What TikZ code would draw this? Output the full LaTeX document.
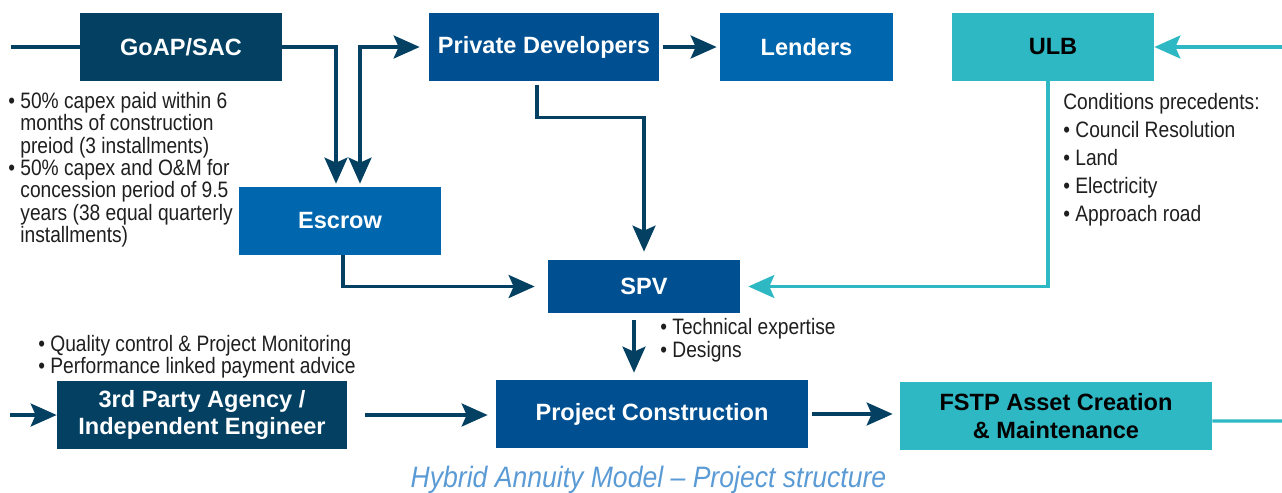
\documentclass[tikz,border=0pt]{standalone}
\usepackage{fontspec}
\setmainfont{Liberation Sans}
\newfontfamily\narrow[FakeStretch=0.86]{Liberation Sans}
\newfontfamily\captionfont[FakeStretch=0.9]{Liberation Sans}
\usetikzlibrary{arrows.meta}
\definecolor{navy}{RGB}{3,64,98}
\definecolor{midblue}{RGB}{0,80,145}
\definecolor{brightblue}{RGB}{0,102,173}
\definecolor{ulbteal}{RGB}{46,184,196}
\definecolor{captionblue}{RGB}{91,155,213}
\begin{document}
\begin{tikzpicture}[
		>={Stealth[length=0.52cm,width=0.46cm,inset=0.1cm]},
		box/.style={minimum height=1.36cm, inner sep=0pt, text=white, align=center,
				font=\fontsize{13.4}{15.4}\selectfont\bfseries},
		arr/.style={draw=navy, line width=1.8pt, ->},
		tarr/.style={arr, draw=ulbteal},
		note/.style={anchor=north west, inner sep=0pt, align=left, text=black!88,
				font=\narrow\fontsize{12.7}{12.7}\selectfont}
	]
	\useasboundingbox (0,0) rectangle (25.64,-9.84);
	\node[box, fill=navy, minimum width=4.04cm] (goap) at (3.62,-0.94) {GoAP/SAC};
	\node[box, fill=midblue, minimum width=4.6cm] (devs) at (10.88,-0.94) {Private Developers};
	\node[box, fill=brightblue, minimum width=3.46cm] (lenders) at (16.13,-0.94) {Lenders};
	\node[box, fill=ulbteal, text=black, minimum width=4.04cm] (ulb) at (21.06,-0.94) {ULB};
	\node[box, fill=brightblue, minimum width=4.04cm] (escrow) at (6.80,-4.42) {Escrow};
	\node[box, fill=midblue, minimum width=3.84cm, minimum height=1.06cm] (spv) at (12.88,-5.73) {SPV};
	\node[box, fill=navy, minimum width=5.8cm] (agency) at (4.04,-8.30) {3rd Party Agency /\\Independent Engineer};
	\node[box, fill=midblue, minimum width=6.24cm] (build) at (13.04,-8.28) {Project Construction};
	\node[box, fill=ulbteal, text=black, minimum width=6.24cm, font=\fontsize{13.4}{15.8}\selectfont\bfseries]
	(fstp) at (21.12,-8.32) {FSTP Asset Creation\\\& Maintenance};

	\coordinate (goapin) at (0.22,-0.94);
	\coordinate (ulbin) at (25.64,-0.94);
	\coordinate (agencyin) at (0.2,-8.30);
	\coordinate (fstpout) at (25.64,-8.42);
	\coordinate (spvdown) at ([xshift=-0.2cm]spv.south);

	\draw[draw=navy, line width=1.8pt] (goapin) -- (goap.west);
	\draw[arr, shorten >=0.06cm] (goap.east) -| ([xshift=-0.08cm]escrow.north);
	\draw[arr, <->, shorten <=0.06cm, shorten >=0.18cm] ([xshift=0.4cm]escrow.north) |- (devs.west);
	\draw[arr, shorten <=0.08cm, shorten >=0.06cm] (devs.east) -- (lenders.west);
	\draw[arr, shorten <=0.08cm, shorten >=0.16cm] ([xshift=-0.14cm]devs.south) -- ++(0,-0.72) -| (spv.north);
	\draw[arr, shorten >=0.26cm] ([xshift=0.06cm]escrow.south) |- (spv.west);
	\draw[tarr, shorten >=0.16cm] ([xshift=-0.1cm]ulb.south) |- (spv.east);
	\draw[tarr] (ulbin) -- (ulb.east);
	\draw[arr, shorten <=0.14cm, shorten >=0.14cm] (spvdown) -- (spvdown |- build.north);
	\draw[arr] (agencyin) -- (agency.west);
	\draw[arr, shorten <=0.36cm, shorten >=0.16cm] (agency.east) -- (agency.east -| build.west);
	\draw[arr, shorten <=0.08cm, shorten >=0.14cm] (build.east) -- (build.east -| fstp.west);
	\draw[draw=ulbteal, line width=1.8pt] ([yshift=-0.1cm]fstp.east) -- (fstpout);

	\node[note] (capexnote) at (0.16,-1.84) {• 50\% capex paid within 6\\\hphantom{• }months of construction\\\hphantom{• }preiod (3 installments)\\• 50\% capex and O\&M for\\\hphantom{• }concession period of 9.5\\\hphantom{• }years (38 equal quarterly\\\hphantom{• }installments)};
	\node[note, font=\narrow\fontsize{12.7}{15.9}\selectfont] (cpnote) at (21.26,-1.86) {Conditions precedents:\\• Council Resolution\\• Land\\• Electricity\\• Approach road};
	\node[note, font=\narrow\fontsize{12.7}{13}\selectfont] (technote) at (13.2,-6.36) {• Technical expertise\\• Designs};
	\node[note] (qcnote) at (0.76,-6.7) {• Quality control \& Project Monitoring\\• Performance linked payment advice};
	\node[font=\captionfont\itshape\fontsize{16.8}{18}\selectfont, text=captionblue] (caption) at (12.97,-9.6) {Hybrid Annuity Model – Project structure};
\end{tikzpicture}
\end{document}
